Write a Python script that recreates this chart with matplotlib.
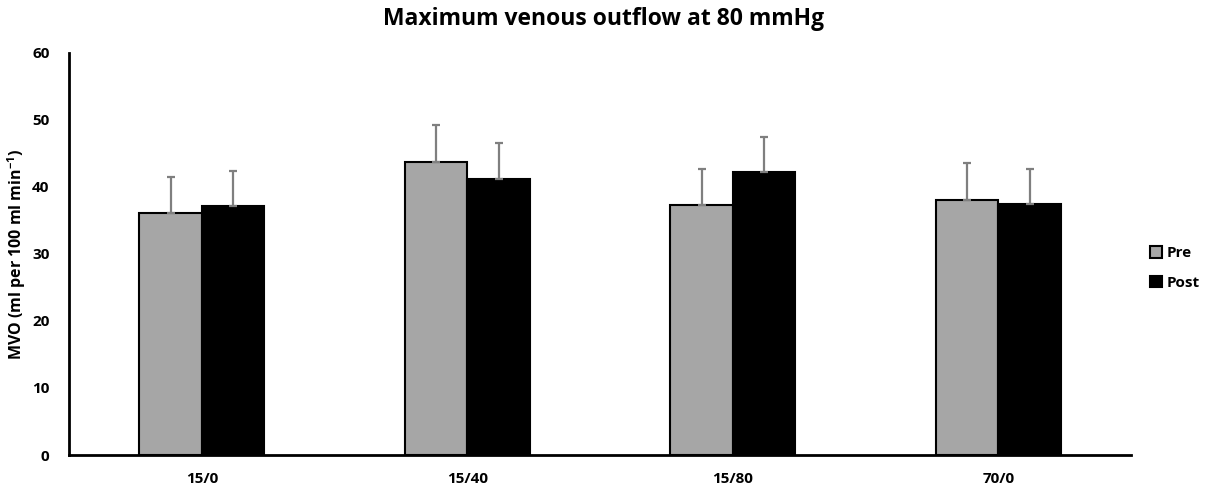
import numpy as np
import matplotlib
matplotlib.use('Agg')
import matplotlib.pyplot as plt

categories = ['15/0', '15/40', '15/80', '70/0']
pre_mean = [36.1, 43.7, 37.3, 38.0]
pre_sd = [5.4, 5.6, 5.4, 5.6]
post_mean = [37.1, 41.2, 42.2, 37.4]
post_sd = [5.3, 5.4, 5.2, 5.3]

plt.rcParams['font.family'] = ['Open Sans', 'DejaVu Sans']
plt.rcParams['font.weight'] = 'bold'
plt.rcParams['mathtext.fontset'] = 'custom'
plt.rcParams['mathtext.bf'] = 'Open Sans:bold'
plt.rcParams['mathtext.rm'] = 'Open Sans:bold'

fig = plt.figure(figsize=(12.07, 4.9), dpi=100)
ax = fig.add_axes([0.0572, 0.0714, 0.88, 0.8206])

x = np.arange(len(categories)) + 0.5
w = 0.235
err_style = dict(ecolor='#7f7f7f', elinewidth=1.6, capsize=3, capthick=1.6)

ax.bar(x - w / 2, pre_mean, w, color='#a6a6a6', edgecolor='black', linewidth=1.5,
       yerr=[np.zeros(4), pre_sd], error_kw=err_style, label='Pre', zorder=2)
ax.bar(x + w / 2, post_mean, w, color='black', edgecolor='black', linewidth=1.5,
       yerr=[np.zeros(4), post_sd], error_kw=err_style, label='Post', zorder=2)

ax.set_xlim(0, 4)
ax.set_ylim(0, 60)
ax.set_yticks(range(0, 61, 10))
ax.set_xticks(x)
ax.set_xticklabels(categories)
ax.tick_params(axis='x', length=0, labelsize=11, pad=12)
ax.tick_params(axis='y', length=0, labelsize=11, pad=14)
for lab in ax.get_xticklabels() + ax.get_yticklabels():
    lab.set_fontweight('bold')

for side in ['top', 'right']:
    ax.spines[side].set_visible(False)
ax.spines['left'].set_linewidth(2)
ax.spines['bottom'].set_linewidth(2)

ax.set_ylabel('MVO (ml per 100 ml min$^{-1}$)', fontsize=11.5, fontweight='bold')
ax.yaxis.set_label_coords(-0.0386, 0.5)
fig.suptitle('Maximum venous outflow at 80 mmHg', fontsize=16.5, fontweight='bold', y=0.985)

leg = ax.legend(loc='center left', bbox_to_anchor=(1.005, 0.465), frameon=False,
                fontsize=11, handlelength=0.8, handleheight=0.8, handletextpad=0.3,
                labelspacing=1.0)

fig.savefig('out.png', dpi=100)
